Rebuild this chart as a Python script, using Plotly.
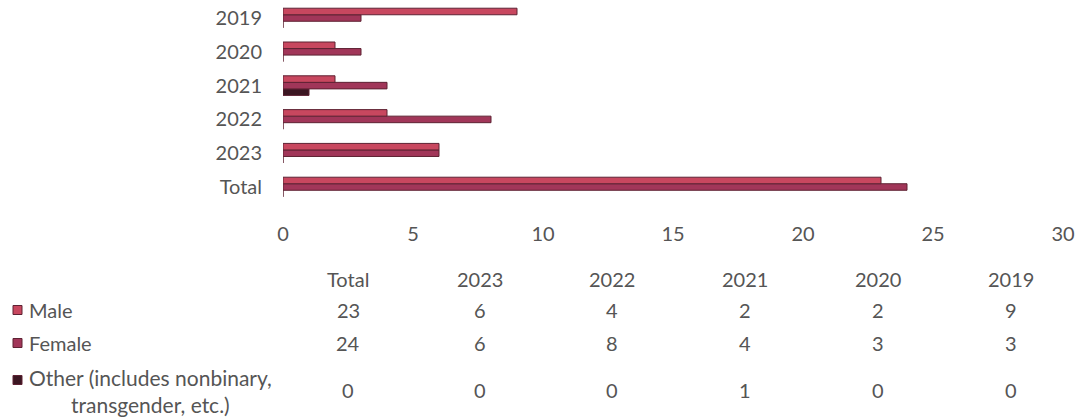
import plotly.graph_objects as go

categories = ["Total", "2023", "2022", "2021", "2020", "2019"]
male = [23, 6, 4, 2, 2, 9]
female = [24, 6, 8, 4, 3, 3]
other = [0, 0, 0, 1, 0, 0]
series_names = ["Male", "Female", "Other (includes nonbinary,<br>transgender, etc.)"]
x_ticks = [0, 5, 10, 15, 20, 25, 30]

colors = {"Male": "#c8475f", "Female": "#a13659", "Other": "#3b1622"}
outline = "#5e2233"
FONT = "Lato"
TXT = "#555555"

W, H = 1086, 420
L, R = 283, 1063
T, B = 0, 220  # plot top/bottom in px

def xp(px):
    return (px - L) / (R - L)

def yp(py):
    return (B - py) / (B - T)

fig = go.Figure()
# add bottom-most first (Other), so Male ends up on top within each group
for name, vals, col in [("Other", other, colors["Other"]),
                        ("Female", female, colors["Female"]),
                        ("Male", male, colors["Male"])]:
    fig.add_trace(go.Bar(
        y=categories, x=vals, orientation="h", name=name,
        marker=dict(color=col, line=dict(color=outline, width=1)),
        showlegend=False, hoverinfo="x+name"))

annotations = []
shapes = []
col_px = [348, 480, 612, 745, 878, 1011]
# header
for c, px in zip(categories, col_px):
    annotations.append(dict(x=xp(px), y=yp(279), xref="paper", yref="paper",
                            text=c, showarrow=False, xanchor="center", yanchor="middle",
                            font=dict(family=FONT, size=20, color=TXT)))
rows = [("Male", male, 310, 310), ("Female", female, 343, 343),
        ("Other", other, 390, 380)]
for (key, vals, vy, ly), label in zip(rows, series_names):
    for v, px in zip(vals, col_px):
        annotations.append(dict(x=xp(px), y=yp(vy), xref="paper", yref="paper",
                                text=str(v), showarrow=False, xanchor="center",
                                yanchor="middle",
                                font=dict(family=FONT, size=20, color=TXT)))
    if key == "Other":
        annotations.append(dict(x=xp(150), y=yp(391), xref="paper", yref="paper",
                                text=label, showarrow=False, xanchor="center",
                                yanchor="middle", align="center",
                                font=dict(family=FONT, size=21, color=TXT)))
    else:
        annotations.append(dict(x=xp(27), y=yp(vy), xref="paper", yref="paper",
                                text=label, showarrow=False, xanchor="left",
                                yanchor="middle",
                                font=dict(family=FONT, size=20, color=TXT)))
    shapes.append(dict(type="rect", xref="paper", yref="paper",
                       x0=xp(13), x1=xp(22), y0=yp(ly + 4.5), y1=yp(ly - 4.5),
                       fillcolor=colors[key], line=dict(color=outline, width=1)))

fig.update_layout(
    template="none",
    width=W, height=H,
    margin=dict(l=L, r=W - R, t=T, b=H - B, autoexpand=False),
    paper_bgcolor="white", plot_bgcolor="white",
    barmode="group", bargap=0.42, bargroupgap=0,
    font=dict(family=FONT, size=20, color=TXT),
    xaxis=dict(range=[0, 30], tickvals=x_ticks, showgrid=False, zeroline=False,
               showline=False, ticks="", automargin=False,
               tickfont=dict(family=FONT, size=20, color=TXT)),
    yaxis=dict(type="category", categoryorder="array", categoryarray=categories,
               range=[-0.976, 5.533], showgrid=False, zeroline=False, showline=False,
               ticks="outside", ticklen=16, tickcolor="rgba(0,0,0,0)", automargin=False,
               tickfont=dict(family=FONT, size=20, color=TXT)),
    annotations=annotations, shapes=shapes,
)

fig.write_html("out.html", config={"displayModeBar": False},
               post_script="document.body.style.margin='0';document.body.style.overflow='hidden';")
